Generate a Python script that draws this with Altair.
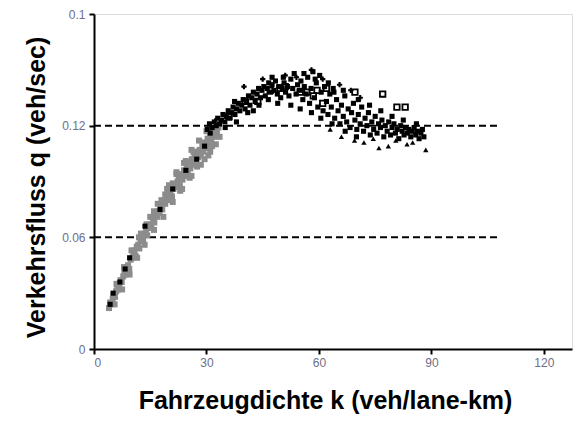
import altair as alt
import pandas as pd

# Free-flow measurements (grey)
gray_k = [4.0, 4.3, 4.6, 5.0, 5.2, 5.6, 5.9, 6.2, 6.5, 6.8, 7.1, 7.4, 7.8, 8.1, 8.4, 8.8, 9.1, 9.4, 9.8, 10.2, 10.5,
          10.8, 11.1, 11.4, 11.8, 12.1, 12.4, 12.8, 13.1, 13.5, 13.9, 14.2, 14.6, 15.0, 15.3, 15.7, 16.1,
          16.4, 16.8, 17.1, 17.5, 17.9, 18.2, 18.6, 19.0, 19.3, 19.7, 20.1, 20.4, 20.8, 21.2, 21.5, 21.9, 22.3,
          22.6, 22.9, 23.3, 23.6, 24.0, 24.3, 24.7, 25.0, 25.4, 25.7, 26.1, 26.4, 26.8, 27.1, 27.5, 27.8, 28.2,
          28.5, 28.9, 29.2, 29.6, 29.9, 30.3, 30.6, 31.0, 31.3, 31.7, 32.0, 32.4, 32.8, 33.2,
          20.0, 22.0, 24.5, 26.5, 18.0, 16.0, 14.0, 12.0, 23.0, 25.5, 27.5, 29.5, 30.5, 31.5, 19.0, 21.0,
          6.0, 8.0, 10.0, 12.5, 15.0, 17.0, 19.5, 22.0, 24.0, 26.0, 28.0, 30.0,
          5.5, 7.5, 9.5, 11.5, 13.5, 16.0, 18.5, 21.0, 23.5, 26.0, 28.5, 31.0, 32.5, 33.5]
gray_q = [0.022, 0.025, 0.024, 0.027, 0.029, 0.028, 0.031, 0.033, 0.032, 0.035, 0.037, 0.036, 0.039, 0.041, 0.040, 0.044, 0.045, 0.043, 0.048, 0.049, 0.051,
          0.053, 0.050, 0.055, 0.056, 0.054, 0.058, 0.060, 0.059, 0.062, 0.064, 0.061, 0.066, 0.067, 0.065, 0.070, 0.068,
          0.072, 0.071, 0.074, 0.073, 0.077, 0.075, 0.079, 0.078, 0.081, 0.080, 0.083, 0.085, 0.082, 0.086, 0.088, 0.087, 0.090,
          0.092, 0.088, 0.094, 0.091, 0.096, 0.093, 0.098, 0.095, 0.100, 0.097, 0.102, 0.099, 0.104, 0.101, 0.106, 0.103, 0.107,
          0.104, 0.109, 0.106, 0.111, 0.108, 0.113, 0.110, 0.115, 0.112, 0.117, 0.114, 0.118, 0.116, 0.119,
          0.088, 0.094, 0.101, 0.106, 0.080, 0.074, 0.067, 0.060, 0.085, 0.092, 0.098, 0.102, 0.104, 0.109, 0.083, 0.089,
          0.035, 0.044, 0.053, 0.062, 0.071, 0.078, 0.086, 0.095, 0.100, 0.107, 0.112, 0.117,
          0.024, 0.032, 0.040, 0.049, 0.056, 0.064, 0.071, 0.079, 0.086, 0.093, 0.099, 0.106, 0.110, 0.114]

# Congested / transition measurements (black, filled)
dark_k = [4.3, 5.1, 6.9, 8.3, 9.5, 13.6, 17.6, 21.0, 24.5, 27.4, 29.5, 31.0,
          30.2, 30.8, 31.5, 32.1, 32.6, 33.0, 33.5, 34.0, 34.4, 34.9, 35.3, 35.8, 36.2,
          36.7, 37.1, 37.6, 38.0, 38.5, 38.9, 39.4, 39.8, 40.3, 40.7, 41.2, 41.6, 42.1, 42.5, 43.0, 43.5, 43.9,
          44.4, 44.8, 45.3, 45.7, 46.2, 46.6, 47.1, 47.5, 48.0, 48.4, 48.9, 49.3, 49.8, 50.2, 50.7, 51.1, 51.6,
          52.0, 52.5, 53.0, 53.4, 53.9, 54.3, 54.8, 55.2, 55.7, 56.1, 56.6, 57.0, 57.5, 57.9, 58.4, 58.8, 59.3, 59.7, 60.2, 60.6, 61.1, 61.5, 62.0,
          62.4, 62.9, 63.3, 63.8, 64.2, 64.7, 65.1, 65.6, 66.0, 66.5, 66.9, 67.4, 67.8, 68.3, 68.7, 69.2, 69.6,
          70.1, 70.5, 71.0, 71.4, 71.9, 72.3, 72.8, 73.2, 73.7, 74.1, 74.6, 75.0, 75.5, 75.9, 76.4, 76.8, 77.3, 77.7,
          78.2, 78.6, 79.1, 79.5, 80.0, 80.4, 80.9, 81.3, 81.8, 82.2, 82.7, 83.1, 83.6, 84.0, 84.5, 84.9, 85.4, 85.8, 86.3, 86.7, 87.2, 87.6,
          37.5, 41.0, 44.0, 46.5, 49.0, 52.5, 55.0, 58.0, 60.5, 63.5, 67.0, 70.0, 47.5, 50.5, 56.0, 59.0, 62.5, 64.0,
          66.5, 70.5, 73.5, 76.5, 79.5, 82.5, 86.0, 88.0, 42.5, 38.0, 35.0]
dark_q = [0.024, 0.030, 0.036, 0.043, 0.049, 0.066, 0.075, 0.086, 0.096, 0.102, 0.109, 0.116,
          0.118, 0.121, 0.119, 0.122, 0.120, 0.124, 0.121, 0.123, 0.126, 0.122, 0.125, 0.128, 0.124,
          0.127, 0.130, 0.126, 0.129, 0.132, 0.128, 0.131, 0.134, 0.129, 0.133, 0.136, 0.131, 0.135, 0.138, 0.133, 0.137, 0.140,
          0.135, 0.139, 0.141, 0.136, 0.140, 0.143, 0.138, 0.142, 0.139, 0.144, 0.137, 0.141, 0.135, 0.140, 0.143, 0.138, 0.141,
          0.136, 0.145, 0.140, 0.148, 0.137, 0.142, 0.139, 0.144, 0.134, 0.141, 0.137, 0.146, 0.132, 0.140, 0.149, 0.135, 0.143, 0.130, 0.147, 0.138, 0.128, 0.141, 0.133,
          0.126, 0.137, 0.130, 0.140, 0.124, 0.134, 0.128, 0.121, 0.131, 0.125, 0.136, 0.122, 0.129, 0.119, 0.127, 0.132, 0.123,
          0.118, 0.126, 0.121, 0.130, 0.117, 0.124, 0.120, 0.127, 0.115, 0.122, 0.118, 0.125, 0.116, 0.121, 0.119, 0.123, 0.114, 0.120,
          0.117, 0.122, 0.115, 0.119, 0.121, 0.116, 0.118, 0.113, 0.120, 0.117, 0.115, 0.119, 0.116, 0.118, 0.114, 0.117, 0.119, 0.115, 0.117, 0.113, 0.116, 0.118,
          0.133, 0.127, 0.131, 0.134, 0.132, 0.131, 0.129, 0.127, 0.124, 0.121, 0.117, 0.114, 0.146, 0.146, 0.148, 0.145, 0.143, 0.138,
          0.139, 0.134, 0.131, 0.128, 0.125, 0.123, 0.121, 0.114, 0.128, 0.122, 0.119]

# Hollow squares
open_k = [40.3, 43.7, 47.0, 49.6, 51.0, 55.0, 56.8, 58.5, 59.5, 61.0, 62.0, 69.6, 77.0, 80.8, 83.0, 36.0, 33.0]
open_q = [0.133, 0.133, 0.139, 0.140, 0.141, 0.138, 0.138, 0.136, 0.139, 0.132, 0.140, 0.138, 0.137, 0.130, 0.130, 0.125, 0.122]

# Triangles (low outliers)
tri_k = [63.0, 66.0, 69.5, 72.0, 74.5, 76.0, 78.5, 80.5, 83.5, 88.5, 85.0]
tri_q = [0.118, 0.114, 0.112, 0.111, 0.113, 0.108, 0.109, 0.112, 0.110, 0.107, 0.111]

# Asterisks (upper edge)
star_k = [40.0, 45.0, 51.0, 54.0, 58.0, 61.0, 65.5, 68.5, 71.0]
star_q = [0.141, 0.145, 0.147, 0.146, 0.150, 0.145, 0.142, 0.139, 0.135]

# Reference flow levels
ref_q = [0.06, 0.12]
ref_k_end = 107.5

x_scale = alt.Scale(domain=[0, 127.5], nice=False)
y_scale = alt.Scale(domain=[0, 0.18], nice=False)

x_axis = alt.Axis(
    title="Fahrzeugdichte k (veh/lane-km)", values=[0, 30, 60, 90, 120], grid=False,
    domainColor="black", domainWidth=2, tickColor="black", tickWidth=2, tickSize=5,
    labelFont="Liberation Sans", labelFontSize=12, labelColor="#6e6e88", labelPadding=3,
    titleFont="Liberation Sans", titleFontSize=25, titleFontWeight="bold", titleColor="black",
    titlePadding=20, titleX=231,
)
y_axis = alt.Axis(
    title="Verkehrsfluss q (veh/sec)", values=[0, 0.06, 0.12, 0.18], grid=False,
    labelExpr="datum.value == 0 ? '0' : datum.value == 0.18 ? '0.1' : format(datum.value, '.2f')",
    domainColor="black", domainWidth=2, tickColor="black", tickWidth=2, tickSize=5,
    labelFont="Liberation Sans", labelFontSize=12, labelColor="#6e6e88", labelPadding=4,
    titleFont="Liberation Sans", titleFontSize=25, titleFontWeight="bold", titleColor="black",
    titlePadding=12, titleY=173,
)

gray_df = pd.DataFrame({"k": gray_k, "q": gray_q})
dark_df = pd.DataFrame({"k": dark_k, "q": dark_q})
open_df = pd.DataFrame({"k": open_k, "q": open_q})
tri_df = pd.DataFrame({"k": tri_k, "q": tri_q})
star_df = pd.DataFrame({"k": star_k, "q": star_q})
ref_df = pd.DataFrame({"q": ref_q, "k0": [0] * len(ref_q), "k1": [ref_k_end] * len(ref_q)})

rules = alt.Chart(ref_df).mark_rule(color="black", strokeWidth=2, strokeDash=[7, 4]).encode(
    x=alt.X("k0:Q", scale=x_scale, axis=x_axis),
    x2="k1:Q",
    y=alt.Y("q:Q", scale=y_scale, axis=y_axis),
)

gray = alt.Chart(gray_df).mark_point(shape="square", filled=True, color="#8c8c8c", size=36, opacity=1).encode(
    x=alt.X("k:Q", scale=x_scale), y=alt.Y("q:Q", scale=y_scale)
)
dark = alt.Chart(dark_df).mark_point(shape="square", filled=True, color="black", size=26, opacity=1).encode(
    x=alt.X("k:Q", scale=x_scale), y=alt.Y("q:Q", scale=y_scale)
)
hollow = alt.Chart(open_df).mark_point(shape="square", filled=False, color="black", size=30, strokeWidth=1.8, opacity=1).encode(
    x=alt.X("k:Q", scale=x_scale), y=alt.Y("q:Q", scale=y_scale)
)
tri = alt.Chart(tri_df).mark_point(shape="triangle-up", filled=True, color="black", size=28, opacity=1).encode(
    x=alt.X("k:Q", scale=x_scale), y=alt.Y("q:Q", scale=y_scale)
)
star = alt.Chart(star_df).mark_point(shape="cross", filled=True, color="black", size=28, opacity=1).encode(
    x=alt.X("k:Q", scale=x_scale), y=alt.Y("q:Q", scale=y_scale)
)

chart = alt.layer(rules, gray, dark, hollow, tri, star).properties(
    width=478, height=335,
    autosize=alt.AutoSizeParams(type="none"),
    padding={"left": 94, "top": 14, "right": 8, "bottom": 76},
).configure_view(stroke=None).configure(background="white")

chart.save("out.html", embed_options={"renderer": "svg", "actions": False})
